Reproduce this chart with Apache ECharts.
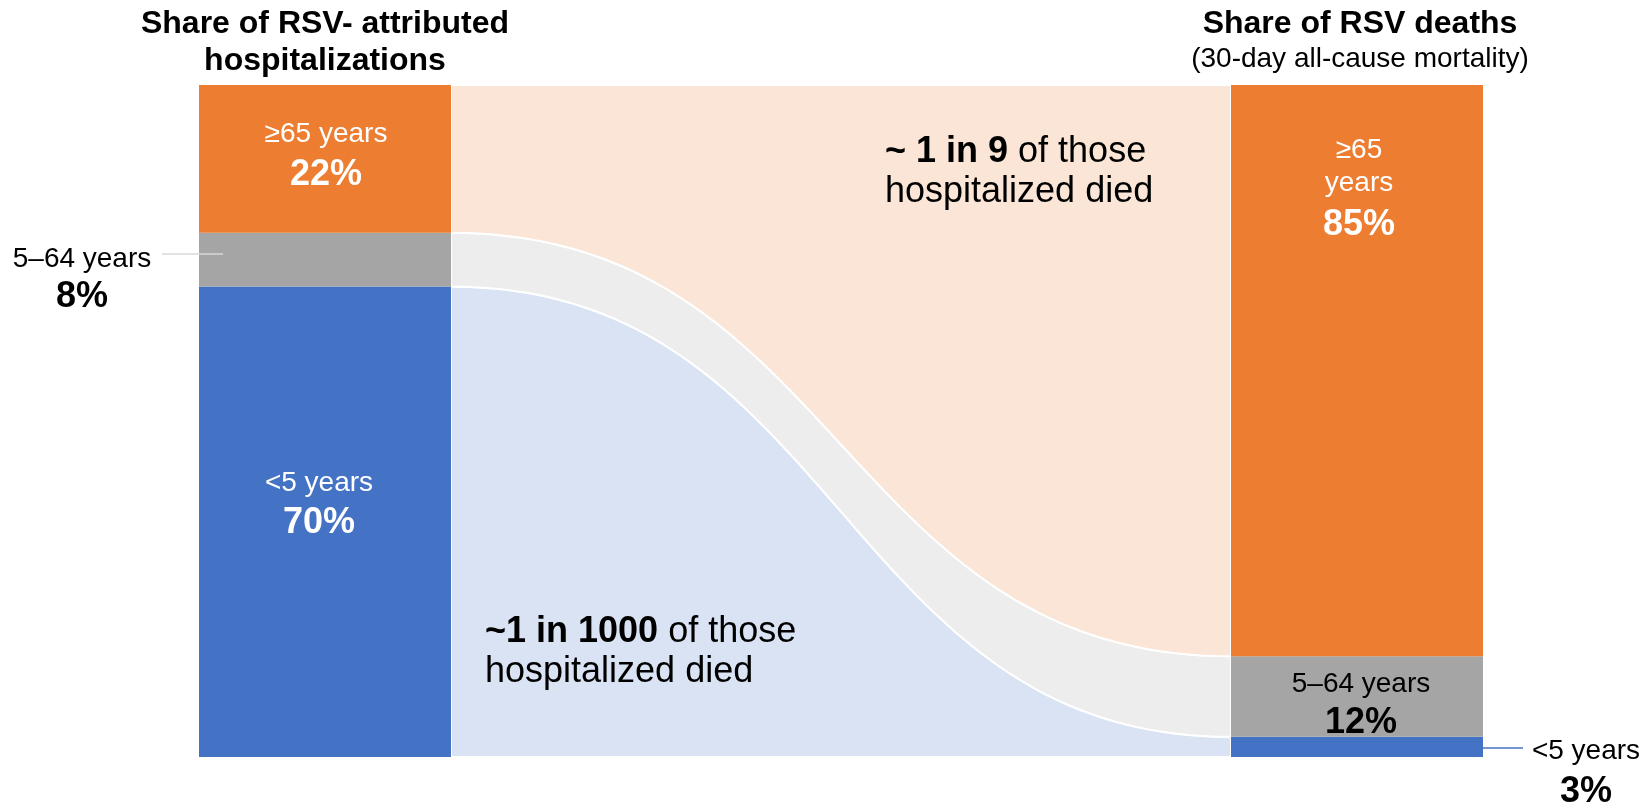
<!DOCTYPE html>
<html>
<head>
<meta charset="utf-8">
<title>RSV hospitalizations and deaths by age</title>
<script src="https://cdn.jsdelivr.net/npm/echarts@6/dist/echarts.min.js"></script>
<style>
  html, body { margin: 0; padding: 0; background: #ffffff; }
  #chart { width: 1649px; height: 802px; }
</style>
</head>
<body>
<div id="chart"></div>
<script>
// Age groups, bottom to top of each stacked column
const ageGroups = ['<5 years', '5–64 years', '≥65 years'];
// Share of RSV-attributed hospitalizations (%)
const hospitalizationShare = [70, 8, 22];
// Share of RSV deaths, 30-day all-cause mortality (%)
const deathShare = [3, 12, 85];
// Column headings
const leftHeading = ['Share of RSV- attributed', 'hospitalizations'];
const rightHeading = 'Share of RSV deaths';
const rightSubheading = '(30-day all-cause mortality)';
// Case-fatality notes drawn inside the ribbons
const upperNote = ['~ 1 in 9', ' of those', 'hospitalized died'];
const lowerNote = ['~1 in 1000', ' of those', 'hospitalized died'];

// Palette
const barColors = ['#4472C4', '#A5A5A5', '#ED7D31'];
const ribbonColors = ['#DAE3F3', '#EDEDED', '#FBE5D6'];
const FONT = '"Liberation Sans", Arial, Helvetica, sans-serif';

// Horizontal layout in axis units: two columns joined by ribbons
const X_MAX = 1284;
const COL_W = 252;

function stackUp(values) {
  let acc = 0;
  return values.map(v => { const lo = acc; acc += v; return [lo, acc]; });
}
const hospStack = stackUp(hospitalizationShare);
const deathStack = stackUp(deathShare);

// One ribbon per age group: [leftLow, leftHigh, rightLow, rightHigh]
const ribbonData = ageGroups.map((g, i) => [hospStack[i][0], hospStack[i][1], deathStack[i][0], deathStack[i][1]]);
// One segment per group per column: [column, low, high, group]
const segmentData = [];
ageGroups.forEach((g, i) => {
  segmentData.push([0, hospStack[i][0], hospStack[i][1], i]);
  segmentData.push([1, deathStack[i][0], deathStack[i][1], i]);
});

function cubic(p0, p1, p2, p3, t) {
  const u = 1 - t;
  return u * u * u * p0 + 3 * u * u * t * p1 + 3 * u * t * t * p2 + t * t * t * p3;
}
// Points along an S-shaped edge with flat tangents at both ends
function sCurve(a, b, steps) {
  const xm = (a[0] + b[0]) / 2;
  const pts = [];
  for (let k = 0; k <= steps; k++) {
    const t = k / steps;
    pts.push([cubic(a[0], xm, xm, b[0], t), cubic(a[1], a[1], b[1], b[1], t)]);
  }
  return pts;
}

const chart = echarts.init(document.getElementById('chart'), null, { renderer: 'canvas' });

function text(x, y, str, size, opts) {
  opts = opts || {};
  return {
    type: 'text', x: x, y: y, z: 100,
    style: {
      text: str, fontSize: size, fontFamily: FONT,
      fontWeight: opts.bold ? 'bold' : 'normal',
      fill: opts.color || '#000000',
      align: opts.align || 'center', verticalAlign: 'middle'
    }
  };
}
function note(x, y, boldPart, rest, size) {
  return {
    type: 'text', x: x, y: y, z: 100,
    style: {
      text: '{b|' + boldPart + '}' + rest,
      rich: { b: { fontSize: size, fontFamily: FONT, fontWeight: 'bold', fill: '#000000' } },
      fontSize: size, fontFamily: FONT, fill: '#000000',
      align: 'left', verticalAlign: 'middle'
    }
  };
}

const option = {
  backgroundColor: '#ffffff',
  animation: false,
  grid: { left: 199, right: 166, top: 85, bottom: 45 },
  xAxis: { type: 'value', min: 0, max: X_MAX, show: false },
  yAxis: { type: 'value', min: 0, max: 100, show: false },
  series: [
    {
      type: 'custom',
      name: 'ribbons',
      coordinateSystem: 'cartesian2d',
      silent: true,
      data: ribbonData,
      renderItem: function (params, api) {
        const x0 = COL_W, x1 = X_MAX - COL_W;
        const lTop = api.coord([x0, api.value(1)]);
        const rTop = api.coord([x1, api.value(3)]);
        const rBot = api.coord([x1, api.value(2)]);
        const lBot = api.coord([x0, api.value(0)]);
        const upper = sCurve(lTop, rTop, 80);
        const lower = sCurve(rBot, lBot, 80);
        return {
          type: 'polygon',
          shape: { points: upper.concat(lower) },
          style: { fill: ribbonColors[params.dataIndex], stroke: '#ffffff', lineWidth: 2 }
        };
      }
    },
    {
      type: 'custom',
      name: 'columns',
      coordinateSystem: 'cartesian2d',
      silent: true,
      data: segmentData,
      renderItem: function (params, api) {
        const col = api.value(0);
        const xa = col === 0 ? 0 : X_MAX - COL_W;
        const xb = col === 0 ? COL_W : X_MAX;
        const p1 = api.coord([xa, api.value(2)]);
        const p2 = api.coord([xb, api.value(1)]);
        return {
          type: 'rect',
          shape: { x: p1[0], y: p1[1], width: p2[0] - p1[0], height: p2[1] - p1[1] },
          style: { fill: barColors[api.value(3)] }
        };
      }
    }
  ],
  graphic: [
    // Column headings
    text(325, 24, leftHeading[0], 32, { bold: true }),
    text(325, 61, leftHeading[1], 32, { bold: true }),
    text(1360, 24, rightHeading, 32, { bold: true }),
    text(1360, 59, rightSubheading, 28),

    // Hospitalizations column
    text(326, 134, ageGroups[2], 28, { color: '#ffffff' }),
    text(326, 175, hospitalizationShare[2] + '%', 36, { bold: true, color: '#ffffff' }),
    text(82, 259, ageGroups[1], 28),
    text(82, 297, hospitalizationShare[1] + '%', 36, { bold: true }),
    { type: 'line', z: 100, shape: { x1: 162, y1: 254, x2: 223, y2: 254 }, style: { stroke: '#D9D9D9', lineWidth: 1.5 } },
    text(319, 483, ageGroups[0], 28, { color: '#ffffff' }),
    text(319, 523, hospitalizationShare[0] + '%', 36, { bold: true, color: '#ffffff' }),

    // Deaths column
    text(1359, 150, ageGroups[2].split(' ')[0], 28, { color: '#ffffff' }),
    text(1359, 183, ageGroups[2].split(' ')[1], 28, { color: '#ffffff' }),
    text(1359, 225, deathShare[2] + '%', 36, { bold: true, color: '#ffffff' }),
    text(1361, 684, ageGroups[1], 28),
    text(1361, 723, deathShare[1] + '%', 36, { bold: true }),
    { type: 'line', z: 100, shape: { x1: 1483, y1: 748, x2: 1523, y2: 748 }, style: { stroke: '#4472C4', lineWidth: 1.5 } },
    text(1586, 751, ageGroups[0], 28),
    text(1586, 792, deathShare[0] + '%', 36, { bold: true }),

    // Notes in the ribbons
    note(885, 152, upperNote[0], upperNote[1], 36),
    text(885, 192, upperNote[2], 36, { align: 'left' }),
    note(485, 632, lowerNote[0], lowerNote[1], 36),
    text(485, 672, lowerNote[2], 36, { align: 'left' })
  ]
};

chart.setOption(option);
</script>
</body>
</html>
